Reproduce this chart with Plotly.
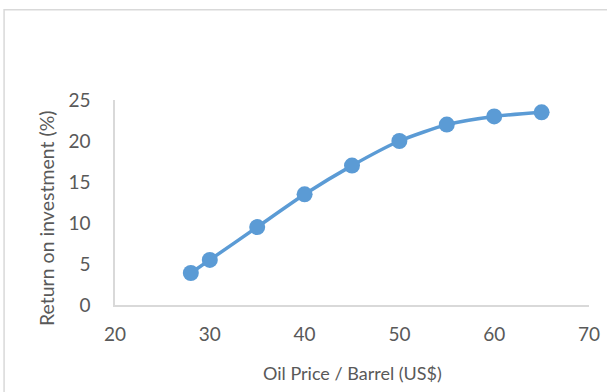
import plotly.graph_objects as go

oil_price = [28, 30, 35, 40, 45, 50, 55, 60, 65]
roi = [3.9, 5.5, 9.5, 13.5, 17.0, 20.0, 22.0, 23.0, 23.5]
x_ticks = [20, 30, 40, 50, 60, 70]
y_ticks = [0, 5, 10, 15, 20, 25]

FONT = "Lato, Open Sans, sans-serif"
GREY = "#595959"

fig = go.Figure()
fig.add_trace(go.Scatter(
    x=oil_price, y=roi, mode="lines+markers",
    line=dict(color="#5B9BD5", width=3.5, shape="spline", smoothing=0.6),
    marker=dict(color="#5B9BD5", size=16),
    showlegend=False, cliponaxis=False,
))

fig.update_layout(
    width=607, height=392,
    margin=dict(l=115, r=18, t=100, b=87),
    paper_bgcolor="white", plot_bgcolor="white",
    font=dict(family=FONT, color=GREY, size=16),
    xaxis=dict(
        range=[20, 70], tickvals=x_ticks, showgrid=False, zeroline=False,
        showline=True, linecolor="#d9d9d9", linewidth=1.5, ticks="",
        tickfont=dict(size=19, color=GREY), ticklabelstandoff=11, automargin=False,
    ),
    yaxis=dict(
        range=[0, 25], tickvals=y_ticks, showgrid=False, zeroline=False,
        showline=True, linecolor="#d9d9d9", linewidth=1.5, ticks="",
        tickfont=dict(size=19, color=GREY), ticklabelstandoff=19, automargin=False,
    ),
    annotations=[
        dict(text="Oil Price / Barrel (US$)", xref="paper", yref="paper",
             x=0.5, y=-0.332, xanchor="center", yanchor="middle", showarrow=False,
             font=dict(size=18, color=GREY, family=FONT)),
        dict(text="Return on investment (%)", xref="paper", yref="paper",
             x=-0.1456, y=0.424, xanchor="center", yanchor="middle", showarrow=False,
             textangle=-90, font=dict(size=19.5, color=GREY, family=FONT)),
    ],
    shapes=[dict(type="rect", xref="paper", yref="paper",
                 x0=-0.234, x1=1.2, y0=-0.6, y1=1.44,
                 line=dict(color="#d9d9d9", width=1.5), fillcolor="rgba(0,0,0,0)", layer="below")],
)

fig.write_html("out.html", config={"displayModeBar": False},
               post_script="document.body.style.margin='0';")
